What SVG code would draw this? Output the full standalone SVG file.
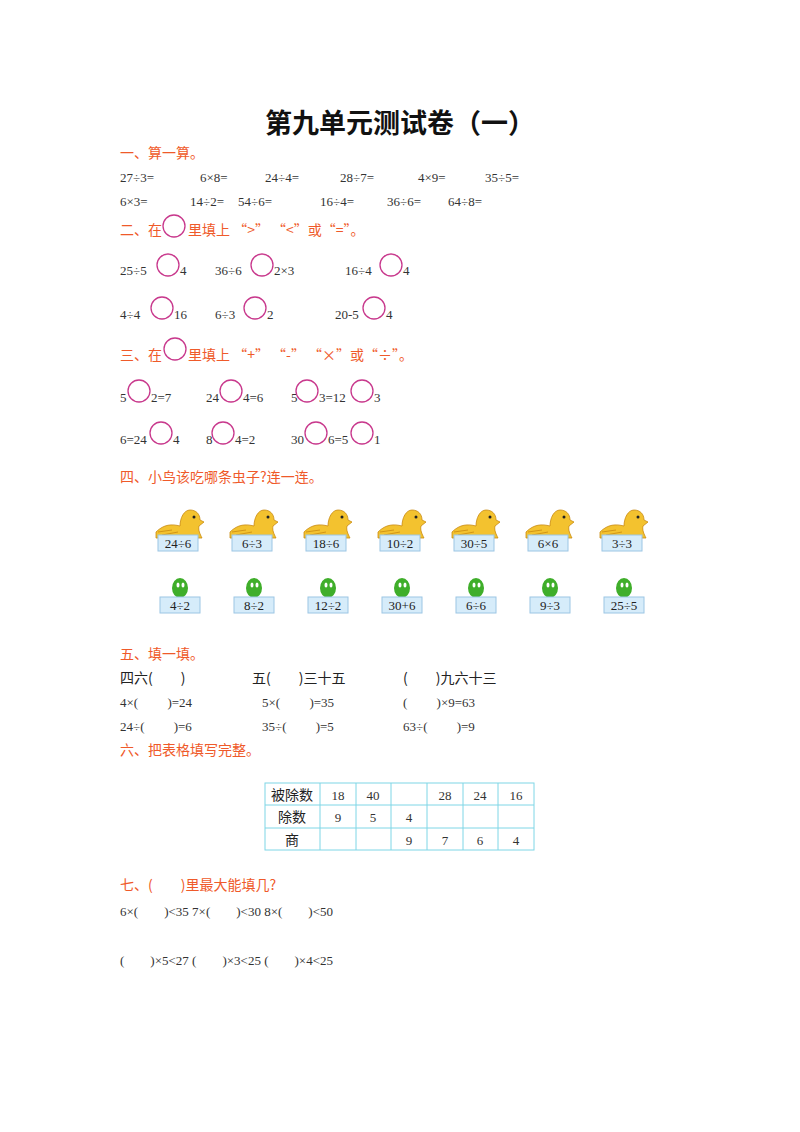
<svg xmlns="http://www.w3.org/2000/svg" width="800" height="1132" viewBox="0 0 800 1132">
<defs>
<style>
.h{font-family:"Noto Sans CJK SC","Noto Sans",sans-serif;font-size:14px;fill:#ef5a2a}
.n{font-family:"Liberation Serif","Noto Sans CJK SC",serif;font-size:13px;fill:#333}
.k{font-family:"Noto Sans CJK SC",sans-serif;font-size:14px;fill:#222}
.c{fill:none;stroke:#c8388c;stroke-width:1.3}
.lb{fill:#d6ecfa;stroke:#9cc6e4;stroke-width:1}
.lt{font-family:"Liberation Serif",serif;font-size:13px;fill:#222;text-anchor:middle}
.tl{stroke:#7fd6e6;stroke-width:1;fill:none}
.tc{font-family:"Liberation Serif","Noto Sans CJK SC",serif;font-size:13px;fill:#333;text-anchor:middle}
</style>
<g id="bird">
<path d="M-22,12 C-14,4 -6,4 2,6 C2,-2 6,-10 12,-10 C18,-10 22,-6 22,0 L26,2 L21,6 C20,10 22,14 24,18 L-22,18 Z" fill="#f3c22f" stroke="#c98a10" stroke-width="0.8"/>
<circle cx="16" cy="-3" r="1.5" fill="#222"/>
<path d="M-20,12 L-6,10 M-16,15 L0,12" stroke="#c98a10" stroke-width="0.8"/>
</g>
<g id="frog">
<ellipse cx="0" cy="0" rx="8" ry="10" fill="#3fae2a"/>
<ellipse cx="-2" cy="-3" rx="1.5" ry="2.5" fill="#fff"/>
<ellipse cx="3" cy="-3" rx="1.5" ry="2.5" fill="#fff"/>
</g>
</defs>
<rect width="800" height="1132" fill="#fff"/>
<text x="400" y="133" text-anchor="middle" font-family="Noto Sans CJK SC,sans-serif" font-size="27" font-weight="bold" fill="#111">第九单元测试卷（一）</text>

<text class="h" x="120" y="158">一、算一算。</text>
<g class="n">
<text x="120" y="182">27÷3=</text><text x="200" y="182">6×8=</text><text x="265" y="182">24÷4=</text><text x="340" y="182">28÷7=</text><text x="418" y="182">4×9=</text><text x="485" y="182">35÷5=</text>
<text x="120" y="206">6×3=</text><text x="190" y="206">14÷2=</text><text x="238" y="206">54÷6=</text><text x="320" y="206">16÷4=</text><text x="387" y="206">36÷6=</text><text x="448" y="206">64÷8=</text>
</g>

<text class="h" x="120" y="235">二、在</text><circle class="c" cx="174" cy="226" r="11"/><text class="h" x="188" y="235">里填上 “&gt;” “&lt;”或“=”。</text>
<g class="n">
<text x="120" y="275">25÷5</text><circle class="c" cx="168" cy="265" r="11"/><text x="180" y="275">4</text>
<text x="215" y="275">36÷6</text><circle class="c" cx="262" cy="265" r="11"/><text x="274" y="275">2×3</text>
<text x="345" y="275">16÷4</text><circle class="c" cx="391" cy="265" r="11"/><text x="403" y="275">4</text>
<text x="120" y="319">4÷4</text><circle class="c" cx="162" cy="308" r="11"/><text x="174" y="319">16</text>
<text x="215" y="319">6÷3</text><circle class="c" cx="255" cy="308" r="11"/><text x="267" y="319">2</text>
<text x="335" y="319">20-5</text><circle class="c" cx="374" cy="308" r="11"/><text x="386" y="319">4</text>
</g>

<text class="h" x="120" y="360">三、在</text><circle class="c" cx="175" cy="349" r="11"/><text class="h" x="188" y="360">里填上 “+” “-” “×”或“÷”。</text>
<g class="n">
<text x="120" y="402">5</text><circle class="c" cx="139" cy="391" r="11"/><text x="151" y="402">2=7</text>
<text x="206" y="402">24</text><circle class="c" cx="231" cy="391" r="11"/><text x="243" y="402">4=6</text>
<text x="291" y="402">5</text><circle class="c" cx="307" cy="391" r="11"/><text x="319" y="402">3=12</text><circle class="c" cx="362" cy="391" r="11"/><text x="374" y="402">3</text>
<text x="120" y="444">6=24</text><circle class="c" cx="161" cy="433" r="11"/><text x="173" y="444">4</text>
<text x="206" y="444">8</text><circle class="c" cx="223" cy="433" r="11"/><text x="235" y="444">4=2</text>
<text x="291" y="444">30</text><circle class="c" cx="316" cy="433" r="11"/><text x="328" y="444">6=5</text><circle class="c" cx="362" cy="433" r="11"/><text x="374" y="444">1</text>
</g>

<text class="h" x="120" y="482">四、小鸟该吃哪条虫子?连一连。</text>
<g id="birds">
<use href="#bird" x="178" y="520"/><rect class="lb" x="158" y="535" width="40" height="16"/><text class="lt" x="178" y="548">24÷6</text>
<use href="#bird" x="252" y="520"/><rect class="lb" x="232" y="535" width="40" height="16"/><text class="lt" x="252" y="548">6÷3</text>
<use href="#bird" x="326" y="520"/><rect class="lb" x="306" y="535" width="40" height="16"/><text class="lt" x="326" y="548">18÷6</text>
<use href="#bird" x="400" y="520"/><rect class="lb" x="380" y="535" width="40" height="16"/><text class="lt" x="400" y="548">10÷2</text>
<use href="#bird" x="474" y="520"/><rect class="lb" x="454" y="535" width="40" height="16"/><text class="lt" x="474" y="548">30÷5</text>
<use href="#bird" x="548" y="520"/><rect class="lb" x="528" y="535" width="40" height="16"/><text class="lt" x="548" y="548">6×6</text>
<use href="#bird" x="622" y="520"/><rect class="lb" x="602" y="535" width="40" height="16"/><text class="lt" x="622" y="548">3÷3</text>
</g>
<g id="frogs">
<use href="#frog" x="180" y="588"/><rect class="lb" x="160" y="597" width="40" height="16"/><text class="lt" x="180" y="610">4÷2</text>
<use href="#frog" x="254" y="588"/><rect class="lb" x="234" y="597" width="40" height="16"/><text class="lt" x="254" y="610">8÷2</text>
<use href="#frog" x="328" y="588"/><rect class="lb" x="308" y="597" width="40" height="16"/><text class="lt" x="328" y="610">12÷2</text>
<use href="#frog" x="402" y="588"/><rect class="lb" x="382" y="597" width="40" height="16"/><text class="lt" x="402" y="610">30+6</text>
<use href="#frog" x="476" y="588"/><rect class="lb" x="456" y="597" width="40" height="16"/><text class="lt" x="476" y="610">6÷6</text>
<use href="#frog" x="550" y="588"/><rect class="lb" x="530" y="597" width="40" height="16"/><text class="lt" x="550" y="610">9÷3</text>
<use href="#frog" x="624" y="588"/><rect class="lb" x="604" y="597" width="40" height="16"/><text class="lt" x="624" y="610">25÷5</text>
</g>

<text class="h" x="120" y="659">五、填一填。</text>
<g class="k"><text x="120" y="683">四六(　　)</text><text x="252" y="683">五(　　)三十五</text><text x="403" y="683">(　　)九六十三</text></g>
<g class="n">
<text x="120" y="707">4×(　　 )=24</text><text x="262" y="707">5×(　　 )=35</text><text x="403" y="707">(　　 )×9=63</text>
<text x="120" y="731">24÷(　　 )=6</text><text x="262" y="731">35÷(　　 )=5</text><text x="403" y="731">63÷(　　 )=9</text>
</g>
<text class="h" x="120" y="755">六、把表格填写完整。</text>

<g id="table">
<rect class="tl" x="265" y="783" width="269" height="67"/>
<path class="tl" d="M265,805H534M265,828H534M320,783V850M356,783V850M391,783V850M427,783V850M463,783V850M498,783V850"/>
<g font-family="Noto Sans CJK SC,sans-serif" font-size="14" fill="#222" text-anchor="middle"><text x="292" y="800">被除数</text><text x="292" y="822">除数</text><text x="292" y="845">商</text></g>
<g class="tc">
<text x="338" y="800">18</text><text x="373" y="800">40</text><text x="445" y="800">28</text><text x="480" y="800">24</text><text x="516" y="800">16</text>
<text x="338" y="822">9</text><text x="373" y="822">5</text><text x="409" y="822">4</text>
<text x="409" y="845">9</text><text x="445" y="845">7</text><text x="480" y="845">6</text><text x="516" y="845">4</text>
</g>
</g>

<text class="h" x="120" y="890">七、(　　)里最大能填几?</text>
<g class="n">
<text x="120" y="916">6×(　　)&lt;35 7×(　　)&lt;30 8×(　　)&lt;50</text>
<text x="120" y="965">(　　)×5&lt;27 (　　)×3&lt;25 (　　)×4&lt;25</text>
</g>
</svg>
